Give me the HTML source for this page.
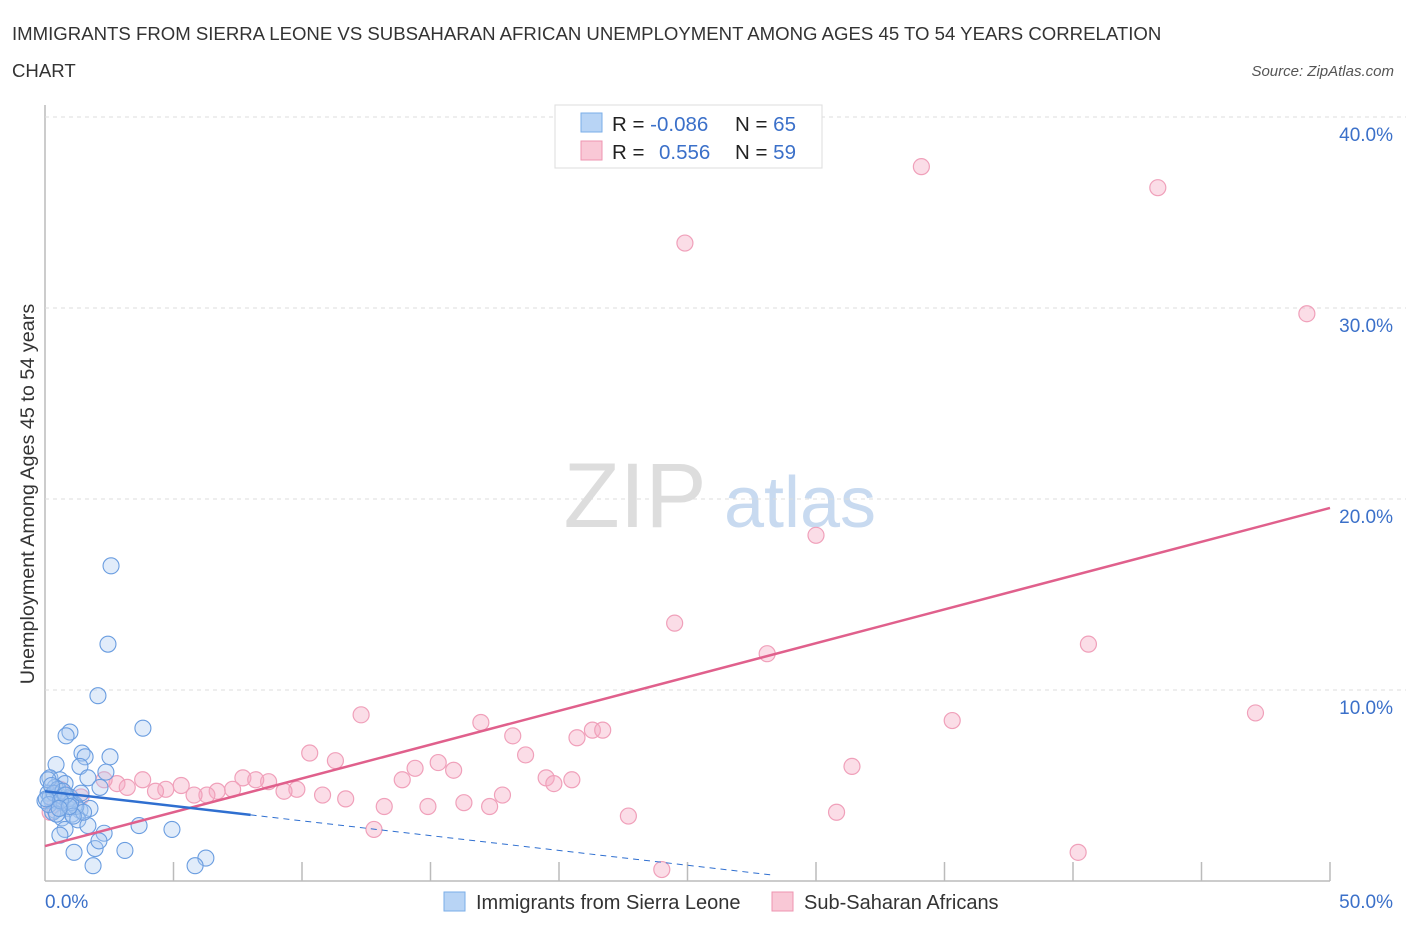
<!DOCTYPE html>
<html><head><meta charset="utf-8"><style>
body{margin:0;background:#fff;font-family:"Liberation Sans",sans-serif}
svg text{font-family:"Liberation Sans",sans-serif}
</style></head><body>
<svg id="c" width="1406" height="930">
<text x="12" y="40" font-size="18.6" fill="#333">IMMIGRANTS FROM SIERRA LEONE VS SUBSAHARAN AFRICAN UNEMPLOYMENT AMONG AGES 45 TO 54 YEARS CORRELATION</text>
<text x="12" y="77" font-size="18.6" fill="#333">CHART</text>
<text x="1394" y="76" font-size="15" fill="#555" font-style="italic" text-anchor="end">Source: ZipAtlas.com</text>
<text x="635" y="527" font-size="92" fill="#ddd" font-family="Liberation Serif" text-anchor="middle">ZIP</text>
<text x="800" y="527" font-size="72" fill="#c8daf0" text-anchor="middle">atlas</text>
<text transform="translate(34,494) rotate(-90)" font-size="19.8" fill="#333" text-anchor="middle">Unemployment Among Ages 45 to 54 years</text>
<g id="grid"></g><g id="marks"></g><g id="lines"></g>
<g>
<rect x="555" y="105" width="267" height="63" fill="#fff" stroke="#ddd"/>
<rect x="581" y="113" width="21" height="19" fill="#b8d4f5" stroke="#7aaee8"/>
<rect x="581" y="141" width="21" height="19" fill="#f9c8d6" stroke="#ee94b0"/>
<text x="612" y="131" font-size="20.5" fill="#222">R = <tspan fill="#3b70c9">-0.086</tspan><tspan x="735">N = </tspan><tspan fill="#3b70c9">65</tspan></text>
<text x="612" y="159" font-size="20.5" fill="#222">R = <tspan x="659" fill="#3b70c9">0.556</tspan><tspan x="735">N = </tspan><tspan fill="#3b70c9">59</tspan></text>
</g>
<g>
<rect x="444" y="892" width="21" height="19" fill="#b8d4f5" stroke="#7aaee8"/>
<text x="476" y="909" font-size="20" fill="#333">Immigrants from Sierra Leone</text>
<rect x="772" y="892" width="21" height="19" fill="#f9c8d6" stroke="#ee94b0"/>
<text x="804" y="909" font-size="20" fill="#333">Sub-Saharan Africans</text>
</g>
</svg>
<script>
const yTicks=[10,20,30,40];
const yTickLabels=["10.0%","20.0%","30.0%","40.0%"];
const xTicks=[0,5,10,15,20,25,30,35,40,45,50];
const blueX=[2.57,2.45,2.06,3.81,0.97,0.82,1.44,2.53,1.56,0.43,1.36,2.37,1.67,0.19,0.58,0.78,0.39,2.14,0.12,0.51,0.97,0.27,0.66,1.17,0.89,0.39,1.36,1.75,1.05,0.66,1.28,1.67,3.66,4.94,0.78,2.30,0.58,1.95,3.11,1.13,6.26,5.84,1.87,0.12,0.0,0.3,2.1,0.2,0.5,0.9,1.2,0.35,0.7,1.0,1.5,0.15,0.45,0.8,1.1,0.25,0.6,0.95,1.4,0.05,0.55];
const blueY=[16.5,12.4,9.7,8.0,7.8,7.6,6.7,6.5,6.5,6.1,6.0,5.7,5.4,5.4,5.3,5.1,4.9,4.9,4.6,4.5,4.4,4.2,4.1,4.0,3.8,3.7,3.7,3.8,3.5,3.3,3.2,2.9,2.9,2.7,2.7,2.5,2.4,1.7,1.6,1.5,1.2,0.8,0.8,5.3,4.2,3.6,2.1,4.4,4.8,4.3,3.9,4.6,4.7,4.1,3.6,4.0,3.5,4.5,3.4,5.0,4.2,3.9,4.6,4.3,3.8];
const pinkX=[34.1,43.3,24.9,49.1,30.0,24.5,40.6,28.1,12.3,35.3,47.1,16.96,21.3,21.7,18.2,20.7,10.3,18.7,11.3,15.3,31.4,15.9,14.4,13.9,19.5,20.5,19.8,7.7,8.7,8.2,3.8,5.3,2.8,2.3,3.2,4.7,4.3,7.3,6.7,6.3,5.8,9.8,9.3,10.8,11.7,17.8,16.3,13.2,14.9,17.3,30.8,22.7,12.8,40.2,24.0,1.4,0.6,0.4,0.2];
const pinkY=[37.4,36.3,33.4,29.7,18.1,13.5,12.4,11.9,8.7,8.4,8.8,8.3,7.9,7.9,7.6,7.5,6.7,6.6,6.3,6.2,6.0,5.8,5.9,5.3,5.4,5.3,5.1,5.4,5.2,5.3,5.3,5.0,5.1,5.3,4.9,4.8,4.7,4.8,4.7,4.5,4.5,4.8,4.7,4.5,4.3,4.5,4.1,3.9,3.9,3.9,3.6,3.4,2.7,1.5,0.6,4.4,4.8,4.0,3.6];
const blueTrend=[4.7,-0.155]; const blueSolidEnd=8, blueDashEnd=28.3;
const pinkTrend=[1.83,0.354];
const X=v=>45+v*25.7, Y=v=>881-v*19.1;
const NS="http://www.w3.org/2000/svg";
function mk(t,a,p){const e=document.createElementNS(NS,t);for(const k in a)e.setAttribute(k,a[k]);document.getElementById(p).appendChild(e);return e;}
let e;
e=mk('line',{x1:45,y1:105,x2:45,y2:881,stroke:'#bbb','stroke-width':1.5},'grid');


e=mk('line',{x1:45,y1:881,x2:1330,y2:881,stroke:'#bbb','stroke-width':1.5},'grid');


yTicks.forEach((t,i)=>{
 e=mk('line',{x1:45,y1:Y(t),x2:1406,y2:Y(t),stroke:'#ddd','stroke-dasharray':'4,4'},'grid');
 
 
 e=mk('text',{x:1393,y:Y(t)+24,'font-size':19,fill:'#3b70c9','text-anchor':'end'},'grid');e.textContent=yTickLabels[i];
 
 
});
xTicks.forEach(t=>{
 if(t===0)return;
 e=mk('line',{x1:X(t),y1:862,x2:X(t),y2:881,stroke:'#bbb','stroke-width':1.5},'grid');
 
 
});
e=mk('text',{x:45,y:908,'font-size':19,fill:'#3b70c9'},'grid');e.textContent='0.0%';


e=mk('text',{x:1393,y:908,'font-size':19,fill:'#3b70c9','text-anchor':'end'},'grid');e.textContent='50.0%';


pinkX.forEach((x,i)=>{
 e=mk('circle',{cx:X(x),cy:Y(pinkY[i]),r:8,fill:'rgba(246,170,195,0.4)',stroke:'#f0a0ba','stroke-width':1.2},'marks');
 
 
});
blueX.forEach((x,i)=>{
 e=mk('circle',{cx:X(x),cy:Y(blueY[i]),r:8,fill:'rgba(170,200,240,0.35)',stroke:'#6a9de0','stroke-width':1.1},'marks');
 
 
});
const bl=x=>blueTrend[0]+blueTrend[1]*x, pl=x=>pinkTrend[0]+pinkTrend[1]*x;
e=mk('line',{x1:X(0),y1:Y(pl(0)),x2:X(50),y2:Y(pl(50)),stroke:'#e0608c','stroke-width':2.5},'lines');


e=mk('line',{x1:X(0),y1:Y(bl(0)),x2:X(blueSolidEnd),y2:Y(bl(blueSolidEnd)),stroke:'#2f6fd0','stroke-width':2.5},'lines');


e=mk('line',{x1:X(blueSolidEnd),y1:Y(bl(blueSolidEnd)),x2:X(blueDashEnd),y2:Y(bl(blueDashEnd)),stroke:'#2f6fd0','stroke-width':1,'stroke-dasharray':'6,5'},'lines');


</script>
</body></html>
